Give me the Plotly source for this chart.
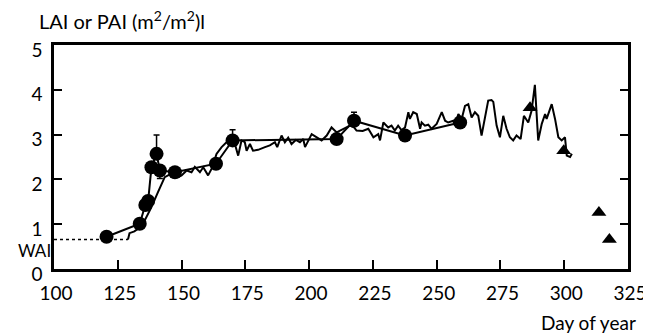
import plotly.graph_objects as go

# Continuous PAI trace (day of year, value)
pai_day = [129.0, 129.6, 131.5, 133.5, 135.6, 138.2, 140.8, 143.4, 146.0, 148.7,
           150.0, 152.0, 153.9, 155.2, 157.2, 158.5, 160.4, 161.8, 163.7, 165.7,
           167.6, 169.6, 170.9, 172.2, 173.5, 174.8, 175.5, 176.8, 178.0, 180.0,
           182.7, 184.6, 186.6, 187.5, 189.2, 190.5, 191.8, 193.1, 194.8, 196.4,
           197.7, 198.4, 201.0, 202.9, 204.9, 206.9, 208.8, 210.8, 213.4, 216.0,
           217.6, 218.6, 221.0, 223.2, 225.2, 227.1, 227.8, 229.1, 231.0, 232.3,
           233.6, 234.9, 236.2, 237.6, 238.9, 239.5, 240.8, 242.2, 243.5, 244.1,
           245.4, 246.7, 248.0, 250.0, 252.0, 253.3, 254.5, 256.5, 257.2, 258.5,
           259.8, 261.1, 262.4, 263.7, 265.0, 266.3, 267.6, 268.9, 270.2, 271.5,
           272.2, 273.5, 274.8, 276.1, 277.4, 278.7, 280.0, 281.3, 282.9, 284.2,
           285.9, 287.2, 288.5, 289.8, 291.2, 292.5, 293.1, 295.1, 296.4, 297.7,
           299.0, 300.3, 301.0, 302.3, 303.0]
pai_val = [0.66, 0.80, 0.84, 0.92, 1.09, 1.38, 1.72, 2.05, 2.13, 2.05,
           2.09, 2.20, 2.16, 2.28, 2.16, 2.27, 2.09, 2.24, 2.57, 2.72,
           2.83, 2.90, 2.79, 2.53, 2.87, 2.83, 2.64, 2.79, 2.64, 2.66,
           2.72, 2.76, 2.83, 2.72, 2.98, 2.83, 2.93, 2.79, 2.88, 2.83,
           2.90, 2.72, 3.01, 2.94, 2.87, 2.98, 3.16, 3.05, 3.13, 3.20,
           3.16, 3.09, 3.08, 3.13, 2.94, 3.01, 2.87, 3.27, 3.16, 3.20,
           3.09, 3.20, 3.10, 3.16, 3.50, 3.35, 3.50, 3.46, 3.13, 3.27,
           3.20, 3.22, 3.13, 3.24, 3.50, 3.31, 3.27, 3.31, 3.20, 3.46,
           3.35, 3.64, 3.68, 3.38, 3.50, 3.42, 2.98, 3.40, 3.76, 3.77,
           3.73, 3.20, 2.94, 3.42, 3.13, 2.94, 2.87, 2.98, 2.90, 3.42,
           3.27, 3.53, 4.11, 2.87, 3.24, 3.46, 3.35, 3.68, 3.35, 2.94,
           2.87, 2.94, 2.53, 2.50, 2.57]

# Measured LAI (circles) with error bars
lai_day = [120.6, 133.6, 135.8, 136.9, 138.2, 140.2, 141.5, 147.4, 163.5, 170.0,
           210.8, 217.6, 237.6, 259.2]
lai_val = [0.72, 1.01, 1.43, 1.52, 2.27, 2.57, 2.20, 2.16, 2.35, 2.87,
           2.90, 3.31, 2.98, 3.27]
lai_err_up = [0, 0, 0, 0, 0, 0.42, 0, 0, 0, 0.24, 0, 0.19, 0, 0]
lai_err_dn = [0, 0, 0, 0, 0, 0, 0.18, 0, 0, 0, 0, 0, 0, 0]

# Triangles
tri_day = [286.6, 299.8, 313.6, 317.7]
tri_val = [3.60, 2.64, 1.26, 0.66]

# WAI reference (dotted)
wai_day = [100, 129]
wai_val = [0.66, 0.66]

x_ticks = [100, 125, 150, 175, 200, 225, 250, 275, 300, 325]
y_ticks = [0, 1, 2, 3, 4, 5]

FONT = "Lato"

fig = go.Figure()
fig.add_trace(go.Scatter(x=wai_day, y=wai_val, mode="lines",
                         line=dict(color="black", width=1.5, dash="dot"),
                         showlegend=False, hoverinfo="skip"))
fig.add_trace(go.Scatter(x=pai_day, y=pai_val, mode="lines",
                         line=dict(color="black", width=2),
                         showlegend=False))
fig.add_trace(go.Scatter(x=lai_day, y=lai_val, mode="lines+markers",
                         line=dict(color="black", width=2),
                         marker=dict(symbol="circle", size=14, color="black"),
                         error_y=dict(type="data", symmetric=False,
                                      array=lai_err_up, arrayminus=lai_err_dn,
                                      color="black", thickness=1.5, width=3),
                         showlegend=False))
fig.add_trace(go.Scatter(x=tri_day, y=tri_val, mode="markers",
                         marker=dict(symbol="triangle-up", size=13, color="black"),
                         showlegend=False))

fig.update_layout(
    width=643, height=327,
    margin=dict(l=46, r=23, t=37, b=66),
    paper_bgcolor="white", plot_bgcolor="white",
    font=dict(family=FONT, color="black", size=18),
    xaxis=dict(range=[100, 325], tickvals=x_ticks, ticks="inside", ticklen=9,
               tickwidth=2, tickcolor="black", showline=True, linewidth=2.5,
               linecolor="black", mirror=True, showgrid=False, zeroline=False,
               automargin=False, ticklabelstandoff=5, ticklabelshift=2,
               tickfont=dict(size=19, family=FONT)),
    yaxis=dict(range=[0, 5], tickvals=y_ticks, ticks="inside", ticklen=8,
               tickwidth=2, tickcolor="black", showline=True, linewidth=2.5,
               linecolor="black", mirror="ticks", showgrid=False, zeroline=False,
               automargin=False,
               tickfont=dict(size=19, family=FONT), ticklabelshift=5,
               ticklabelstandoff=5),
    annotations=[
        dict(text="LAI or PAI (m<sup>2</sup>/m<sup>2</sup>)l", xref="paper", yref="paper",
             x=-0.03, y=1.0, xanchor="left", yanchor="bottom", yshift=10,
             showarrow=False, font=dict(size=20, family=FONT)),
        dict(text="Day of year", xref="paper", yref="paper", x=1.017, y=0,
             xanchor="right", yanchor="top", yshift=-40, showarrow=False,
             font=dict(size=19, family=FONT)),
        dict(text="WAI", xref="paper", yref="y", x=0, y=0.66,
             xanchor="right", yanchor="middle", xshift=-1, yshift=-11,
             showarrow=False, font=dict(size=17, family=FONT)),
    ],
)

fig.write_html("out.html")
